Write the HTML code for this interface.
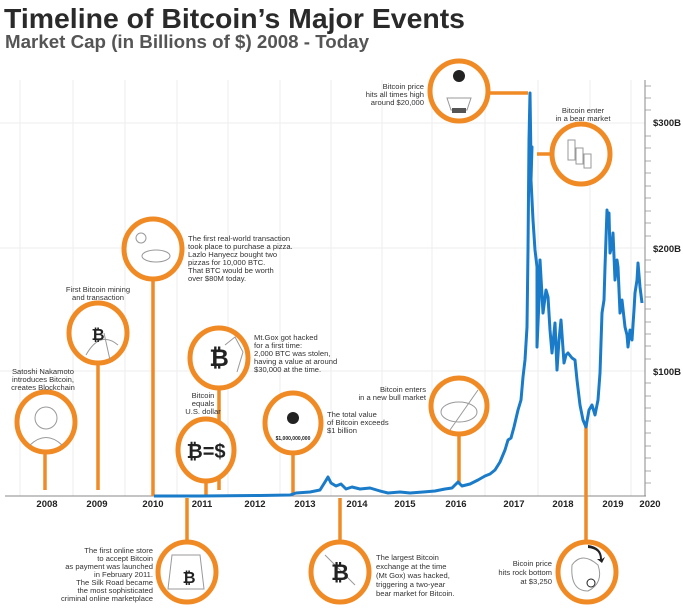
<!DOCTYPE html>
<html><head><meta charset="utf-8"><style>
html,body{margin:0;padding:0;background:#fff;}
svg{display:block;}
text{font-family:"Liberation Sans",sans-serif;}
.t{font-size:7.6px;fill:#333;}
.yr{font-size:9.5px;font-weight:bold;fill:#222;text-anchor:middle;}
.yl{font-size:9.5px;font-weight:bold;fill:#222;}
.c{fill:#fff;stroke:#f08a24;stroke-width:5;}
.s{stroke:#f08a24;stroke-width:3.5;}
.ic{fill:none;stroke:#999;stroke-width:1;}
.b{font-size:20px;font-weight:bold;fill:#222;text-anchor:middle;}
</style></head><body>
<svg width="683" height="610" viewBox="0 0 683 610" xmlns="http://www.w3.org/2000/svg">
<text x="4" y="28" style="font-size:28px;font-weight:bold;fill:#2a2a2a" textLength="461" lengthAdjust="spacingAndGlyphs">Timeline of Bitcoin’s Major Events</text>
<text x="5" y="48" style="font-size:18px;font-weight:bold;fill:#555" textLength="364" lengthAdjust="spacingAndGlyphs">Market Cap (in Billions of $) 2008 - Today</text>

<!-- grid -->
<g stroke="#eee" stroke-width="1">
<line x1="0" y1="123" x2="645" y2="123"/><line x1="0" y1="248" x2="645" y2="248"/><line x1="0" y1="371" x2="645" y2="371"/>
<line x1="20" y1="80" x2="20" y2="496"/><line x1="73" y1="80" x2="73" y2="496"/><line x1="125" y1="80" x2="125" y2="496"/>
<line x1="177" y1="80" x2="177" y2="496"/><line x1="228" y1="80" x2="228" y2="496"/><line x1="280" y1="80" x2="280" y2="496"/>
<line x1="331" y1="80" x2="331" y2="496"/><line x1="382" y1="80" x2="382" y2="496"/><line x1="432" y1="80" x2="432" y2="496"/>
<line x1="485" y1="80" x2="485" y2="496"/><line x1="538" y1="80" x2="538" y2="496"/><line x1="590" y1="80" x2="590" y2="496"/>
<line x1="631" y1="80" x2="631" y2="496"/>
</g>
<!-- axes -->
<line x1="5" y1="496" x2="646" y2="496" stroke="#888" stroke-width="1"/>
<line x1="645" y1="80" x2="645" y2="496" stroke="#888" stroke-width="1"/>
<g class="yl"><text x="653" y="126">$300B</text><text x="653" y="252">$200B</text><text x="653" y="375">$100B</text></g>
<g class="yr">
<text x="47" y="507">2008</text><text x="97" y="507">2009</text><text x="153" y="507">2010</text><text x="202" y="507">2011</text>
<text x="255" y="507">2012</text><text x="305" y="507">2013</text><text x="357" y="507">2014</text><text x="405" y="507">2015</text>
<text x="456" y="507">2016</text><text x="514" y="507">2017</text><text x="563" y="507">2018</text><text x="613" y="507">2019</text><text x="650" y="507">2020</text>
</g>

<!-- stems -->
<line class="s" x1="45" y1="450" x2="45" y2="490"/>
<line class="s" x1="98" y1="362" x2="98" y2="490"/>
<line class="s" x1="153" y1="280" x2="153" y2="496"/>
<line class="s" x1="219" y1="386" x2="219" y2="490"/>
<line class="s" x1="206" y1="482" x2="206" y2="496"/>
<line class="s" x1="293" y1="452" x2="293" y2="494"/>
<line class="s" x1="459" y1="432" x2="459" y2="484"/>
<line class="s" x1="486" y1="93" x2="528" y2="93"/>
<line class="s" x1="537" y1="154" x2="552" y2="154"/>
<line class="s" x1="187" y1="498" x2="187" y2="544"/>
<line class="s" x1="340" y1="498" x2="340" y2="544"/>
<line class="s" x1="586" y1="425" x2="586" y2="544"/>

<!-- price line -->
<polyline fill="none" stroke="#1a7bc9" stroke-width="3" stroke-linejoin="round" points="
154,496 200,496 260,495.5 290,495 296,493 310,492 320,490 325,482 328,477 331,483 336,486 341,484 346,489 352,487 360,489 370,488 380,491 388,493 400,492 410,493 423,492 435,491 445,489 452,488 458,482 462,486 470,484 478,480 485,476 490,474 495,470 500,462 505,450 508,440 511,438 514,427 518,410 521,400 523,377 525,360 527,327 528,250 529,140 530,93 531,160 532,147 531,180 533,220 535,250 537,267 537,347 539,300 540,260 543,313 546,290 548,297 550,330 552,353 555,323 557,370 559,340 561,320 564,363 566,355 568,353 572,358 575,360 577,380 580,405 583,420 586,427 589,410 592,405 595,415 598,400 600,373 602,313 604,300 605,267 607,210 608,220 609,213 610,253 612,245 613,233 615,280 617,260 618,267 620,313 622,300 625,327 627,335 628,347 630,330 632,340 634,310 635,293 637,280 638,263 639,275 640,287 642,303"/>

<!-- circles -->
<ellipse class="c" cx="46" cy="422" rx="29" ry="30"/>
<ellipse class="c" cx="98" cy="333" rx="29" ry="30"/>
<ellipse class="c" cx="153" cy="249" rx="29" ry="30"/>
<ellipse class="c" cx="219" cy="358" rx="29" ry="30"/>
<ellipse class="c" cx="206" cy="450" rx="28" ry="31"/>
<ellipse class="c" cx="293" cy="423" rx="28" ry="30"/>
<ellipse class="c" cx="459" cy="406" rx="28" ry="28"/>
<ellipse class="c" cx="459" cy="91" rx="29" ry="30"/>
<ellipse class="c" cx="581" cy="154" rx="29" ry="30"/>
<ellipse class="c" cx="187" cy="572" rx="29" ry="30"/>
<ellipse class="c" cx="340" cy="572" rx="29" ry="30"/>
<ellipse class="c" cx="587" cy="572" rx="29" ry="30"/>

<!-- icons -->
<g class="ic">
<circle cx="46" cy="418" r="11"/><path d="M30,445 Q46,430 62,445"/>
<path d="M86,355 Q100,330 118,345"/><line x1="104" y1="333" x2="110" y2="360"/>
<circle cx="141" cy="238" r="5"/><ellipse cx="156" cy="256" rx="14" ry="6"/>
<path d="M225,345 l10,-8 l8,15 l-6,20"/>
<ellipse cx="459" cy="412" rx="18" ry="10"/><line x1="450" y1="430" x2="478" y2="390"/>
<path d="M447,98 h24 l-4,12 h-16z"/>
<rect x="568" y="140" width="7" height="20"/><rect x="576" y="148" width="7" height="16"/><rect x="584" y="154" width="7" height="14"/>
<path d="M172,555 h28 l4,34 h-36z"/>
<path d="M325,555 l30,30"/>
<path d="M572,565 q10,-14 26,0 q6,18 -10,26 q-18,0 -16,-26z"/>
</g>
<g fill="#222">
<text x="98" y="340" class="b" style="font-size:16px">₿</text>
<text x="219" y="366" class="b" style="font-size:24px">₿</text>
<text x="206" y="458" class="b" style="font-size:20px">₿=$</text>
<circle cx="293" cy="418" r="6"/>
<text x="293" y="440" style="font-size:5px;font-weight:bold;text-anchor:middle">$1,000,000,000</text>
<circle cx="459" cy="76" r="6"/>
<rect x="452" y="108" width="14" height="5" fill="#555"/>
<text x="189" y="583" class="b" style="font-size:16px">₿</text>
<text x="340" y="580" class="b" style="font-size:22px">₿</text>
<circle cx="591" cy="583" r="4" fill="none" stroke="#222"/>
<path d="M588,545 q14,2 14,14 l3,-2 -3,6 -5,-4 3,0 q0,-10 -12,-11z"/>
</g>

<!-- texts -->
<g class="t" text-anchor="middle">
<text x="43" y="374">Satoshi Nakamoto</text><text x="43" y="382">introduces Bitcoin,</text><text x="43" y="390">creates Blockchain</text>
<text x="98" y="292">First Bitcoin mining</text><text x="98" y="300">and transaction</text>
<text x="203" y="398">Bitcoin</text><text x="203" y="406">equals</text><text x="203" y="414">U.S. dollar</text>
<text x="583" y="113">Bitcoin enter</text><text x="583" y="121">in a bear market</text>
</g>
<g class="t">
<text x="188" y="241">The first real-world transaction</text><text x="188" y="249">took place to purchase a pizza.</text>
<text x="188" y="257">Lazlo Hanyecz bought two</text><text x="188" y="265">pizzas for 10,000 BTC.</text>
<text x="188" y="273">That BTC would be worth</text><text x="188" y="281">over $80M today.</text>
<text x="254" y="340">Mt.Gox got hacked</text><text x="254" y="348">for a first time:</text>
<text x="254" y="356">2,000 BTC was stolen,</text><text x="254" y="364">having a value at around</text>
<text x="254" y="372">$30,000 at the time.</text>
<text x="327" y="417">The total value</text><text x="327" y="425">of Bitcoin exceeds</text><text x="327" y="433">$1 billion</text>
<text x="376" y="560">The largest Bitcoin</text><text x="376" y="569">exchange at the time</text>
<text x="376" y="578">(Mt Gox) was hacked,</text><text x="376" y="587">triggering a two-year</text>
<text x="376" y="596">bear market for Bitcoin.</text>
</g>
<g class="t" text-anchor="end">
<text x="426" y="392">Bitcoin enters</text><text x="426" y="400">in a new bull market</text>
<text x="424" y="89">Bitcoin price</text><text x="424" y="97">hits all times high</text><text x="424" y="105">around $20,000</text>
<text x="153" y="553">The first online store</text><text x="153" y="561">to accept Bitcoin</text>
<text x="153" y="569">as payment was launched</text><text x="153" y="577">in February 2011.</text>
<text x="153" y="585">The Silk Road became</text><text x="153" y="593">the most sophisticated</text>
<text x="153" y="601">criminal online marketplace</text>
<text x="552" y="566">Bicoin price</text><text x="552" y="575">hits rock bottom</text><text x="552" y="584">at $3,250</text>
</g>
<g stroke="#999" stroke-width="0.8">
<line x1="645" y1="483" x2="651" y2="483"/><line x1="645" y1="471" x2="651" y2="471"/><line x1="645" y1="458" x2="651" y2="458"/>
<line x1="645" y1="446" x2="651" y2="446"/><line x1="645" y1="433" x2="651" y2="433"/><line x1="645" y1="421" x2="651" y2="421"/>
<line x1="645" y1="408" x2="651" y2="408"/><line x1="645" y1="396" x2="651" y2="396"/><line x1="645" y1="383" x2="651" y2="383"/>
<line x1="645" y1="359" x2="651" y2="359"/><line x1="645" y1="346" x2="651" y2="346"/><line x1="645" y1="334" x2="651" y2="334"/>
<line x1="645" y1="322" x2="651" y2="322"/><line x1="645" y1="309" x2="651" y2="309"/><line x1="645" y1="297" x2="651" y2="297"/>
<line x1="645" y1="285" x2="651" y2="285"/><line x1="645" y1="272" x2="651" y2="272"/><line x1="645" y1="260" x2="651" y2="260"/>
<line x1="645" y1="236" x2="651" y2="236"/><line x1="645" y1="223" x2="651" y2="223"/><line x1="645" y1="211" x2="651" y2="211"/>
<line x1="645" y1="198" x2="651" y2="198"/><line x1="645" y1="186" x2="651" y2="186"/><line x1="645" y1="173" x2="651" y2="173"/>
<line x1="645" y1="161" x2="651" y2="161"/><line x1="645" y1="148" x2="651" y2="148"/><line x1="645" y1="136" x2="651" y2="136"/>
<line x1="645" y1="110" x2="651" y2="110"/><line x1="645" y1="98" x2="651" y2="98"/><line x1="645" y1="86" x2="651" y2="86"/>
</g>
</svg>
</body></html>
